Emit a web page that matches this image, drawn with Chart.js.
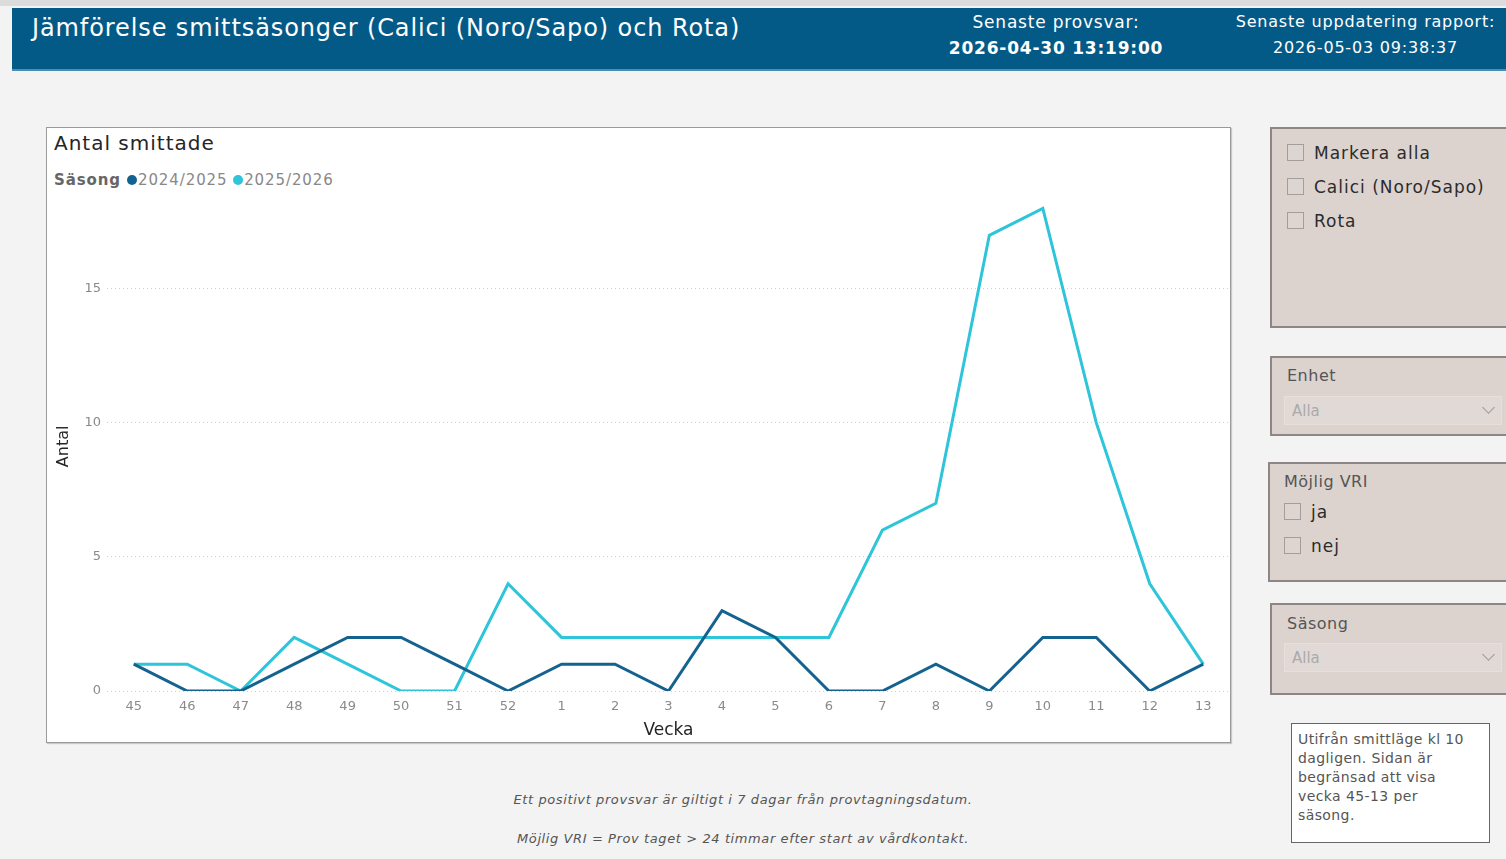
<!DOCTYPE html>
<html lang="sv">
<head>
<meta charset="utf-8">
<title>Jämförelse smittsäsonger</title>
<script src="https://cdn.jsdelivr.net/npm/chart.js@4/dist/chart.umd.min.js"></script>
<style>
  html, body { margin: 0; padding: 0; }
  body {
    width: 1506px; height: 859px; position: relative; overflow: hidden;
    background: #f3f3f3; font-family: "DejaVu Sans", Verdana, sans-serif; color: #333;
  }
  .topstrip { position: absolute; left: 0; top: 0; width: 1506px; height: 6px; background: #dcdcdc; }
  .header {
    position: absolute; left: 12px; top: 8px; width: 1494px; height: 61px;
    background: #045a87; border-bottom: 2px solid #4f8db0; color: #fff;
  }
  .header .title { position: absolute; left: 20px; top: 6px; font-size: 24px; letter-spacing: 0.9px; white-space: nowrap; }
  .header .info { position: absolute; text-align: center; white-space: nowrap; line-height: 26px; letter-spacing: 0.8px; }
  .box {
    position: absolute; left: 46px; top: 127px; width: 1183px; height: 614px;
    background: #fff; border: 1px solid #9a9a9a; box-shadow: 1px 1px 1px #c8c8c8;
  }
  .box .ctitle { position: absolute; left: 7px; top: 3px; font-size: 20px; letter-spacing: 1px; color: #252525; }
  .box .legend { position: absolute; left: 7px; top: 43px; font-size: 15px; letter-spacing: 0.9px; color: #888; white-space: nowrap; }
  .legend b { color: #666; margin-right: 6px; }
  .legend .dot { display: inline-block; width: 10px; height: 10px; border-radius: 50%; margin-right: 1px; vertical-align: 0px; }
  #chartWrap { position: absolute; left: 0; top: 60px; width: 1183px; height: 553px; }
  .panel {
    position: absolute; left: 1270px; width: 240px; background: #dcd3cf;
    border: 2px solid #8c8785; box-sizing: border-box;
  }
  .panel .lbl { position: absolute; left: 15px; font-size: 16px; letter-spacing: 0.5px; color: #555; }
  .cb { position: absolute; left: 15px; font-size: 17px; letter-spacing: 1px; color: #2b2b2b; white-space: nowrap; }
  .cb span.sq {
    display: inline-block; width: 17px; height: 17px; border: 1px solid #a49d9a; box-sizing: border-box;
    vertical-align: -2px; margin-right: 10px; background: #ddd5d1;
  }
  .dd {
    position: absolute; left: 12px; width: 218px; height: 29px; background: #e1d9d6;
    border: 1px solid #e6dfdc; box-sizing: border-box; font-size: 15px; color: #aaa;
  }
  .dd .v { position: absolute; left: 7px; top: 5px; }
  .dd .chev {
    position: absolute; right: 8px; top: 6px; width: 8px; height: 8px;
    border-right: 1.5px solid #999; border-bottom: 1.5px solid #999; transform: rotate(45deg);
  }
  .note {
    position: absolute; left: 1291px; top: 723px; width: 199px; height: 120px; box-sizing: border-box;
    background: #fff; border: 1px solid #666; padding: 6px 6px; font-size: 14px; letter-spacing: 0.4px;
    line-height: 19px; color: #555; white-space: nowrap;
  }
  .foot { position: absolute; left: 393px; width: 700px; text-align: center; font-size: 13px; letter-spacing: 0.6px; font-style: italic; color: #555; }
</style>
</head>
<body>
<div class="topstrip"></div>
<div class="header">
  <div class="title">Jämförelse smittsäsonger (Calici (Noro/Sapo) och Rota)</div>
  <div class="info" style="left:921px; width:246px; top:1px; font-size:17px;">Senaste provsvar:<br><b>2026-04-30 13:19:00</b></div>
  <div class="info" style="left:1216px; width:275px; top:1px; font-size:16px;">Senaste uppdatering rapport:<br>2026-05-03 09:38:37</div>
</div>

<div class="box">
  <div class="ctitle">Antal smittade</div>
  <div class="legend"><b>Säsong</b><span class="dot" style="background:#14628f"></span>2024/2025 <span class="dot" style="background:#2ec4da"></span>2025/2026</div>
  <div id="chartWrap"><canvas id="myChart"></canvas></div>
</div>

<div class="panel" style="top:127px; height:201px;">
  <div class="cb" style="top:14px;"><span class="sq"></span>Markera alla</div>
  <div class="cb" style="top:48px;"><span class="sq"></span>Calici (Noro/Sapo)</div>
  <div class="cb" style="top:82px;"><span class="sq"></span>Rota</div>
</div>
<div class="panel" style="top:356px; height:80px;">
  <div class="lbl" style="top:8px;">Enhet</div>
  <div class="dd" style="top:38px;"><span class="v">Alla</span><span class="chev"></span></div>
</div>
<div class="panel" style="top:462px; left:1268px; height:120px;">
  <div class="lbl" style="top:8px; left:14px;">Möjlig VRI</div>
  <div class="cb" style="top:38px; left:14px;"><span class="sq"></span>ja</div>
  <div class="cb" style="top:72px; left:14px;"><span class="sq"></span>nej</div>
</div>
<div class="panel" style="top:603px; height:92px;">
  <div class="lbl" style="top:9px;">Säsong</div>
  <div class="dd" style="top:38px;"><span class="v">Alla</span><span class="chev"></span></div>
</div>
<div class="note">Utifrån smittläge kl 10<br>dagligen. Sidan är<br>begränsad att visa<br>vecka 45-13 per<br>säsong.</div>

<div class="foot" style="top:792px;">Ett positivt provsvar är giltigt i 7 dagar från provtagningsdatum.</div>
<div class="foot" style="top:831px;">Möjlig VRI = Prov taget &gt; 24 timmar efter start av vårdkontakt.</div>

<script>
// veckor 45-13
const weeks = ["45", "46", "47", "48", "49", "50", "51", "52", "1", "2", "3", "4", "5", "6", "7", "8", "9", "10", "11", "12", "13"];
const season2425 = [1, 0, 0, 1, 2, 2, 1, 0, 1, 1, 0, 3, 2, 0, 0, 1, 0, 2, 2, 0, 1];
const season2526 = [1, 1, 0, 2, 1, 0, 0, 4, 2, 2, 2, 2, 2, 2, 6, 7, 17, 18, 10, 4, 1];
const seasonNames = ["2024/2025", "2025/2026"];
const yTicks = [0, 5, 10, 15];

const chartConfig = {
  type: "line",
  data: {
    labels: weeks,
    datasets: [
      { label: seasonNames[0], data: season2425, borderColor: "#14628f", backgroundColor: "#14628f" },
      { label: seasonNames[1], data: season2526, borderColor: "#2ec4da", backgroundColor: "#2ec4da" },
    ],
  },
  options: {
    responsive: true,
    maintainAspectRatio: false,
    animation: false,
    layout: { padding: { top: 3, right: 0, left: 0, bottom: 0 } },
    elements: {
      line: { borderWidth: 3, tension: 0 },
      point: { radius: 0, hoverRadius: 0 },
    },
    plugins: { legend: { display: false }, tooltip: { enabled: false } },
    scales: {
      x: {
        offset: true,
        grid: { display: false },
        border: { display: false },
        ticks: { color: "#8a8a8a", font: { family: "DejaVu Sans", size: 13 }, padding: 0, maxRotation: 0, autoSkip: false },
        title: { display: true, text: "Vecka", color: "#252525", font: { family: "DejaVu Sans", size: 17 }, padding: { top: 6, bottom: 0 } },
      },
      y: {
        min: 0,
        max: 18.25,
        afterBuildTicks: (axis) => {
          axis.ticks = yTicks.map((v) => ({ value: v }));
        },
        afterFit: (axis) => { axis.width = 60; },
        grid: { color: "#cfcfcf", drawTicks: false },
        border: { display: false, dash: [1, 3] },
        ticks: { color: "#8a8a8a", font: { family: "DejaVu Sans", size: 13 }, padding: 6 },
        title: { display: true, text: "Antal", color: "#252525", font: { family: "DejaVu Sans", size: 16 }, padding: { top: 7, bottom: 0 } },
      },
    },
  },
};

const ctx = document.getElementById("myChart");
const myChart = new Chart(ctx, chartConfig);
</script>
</body>
</html>
